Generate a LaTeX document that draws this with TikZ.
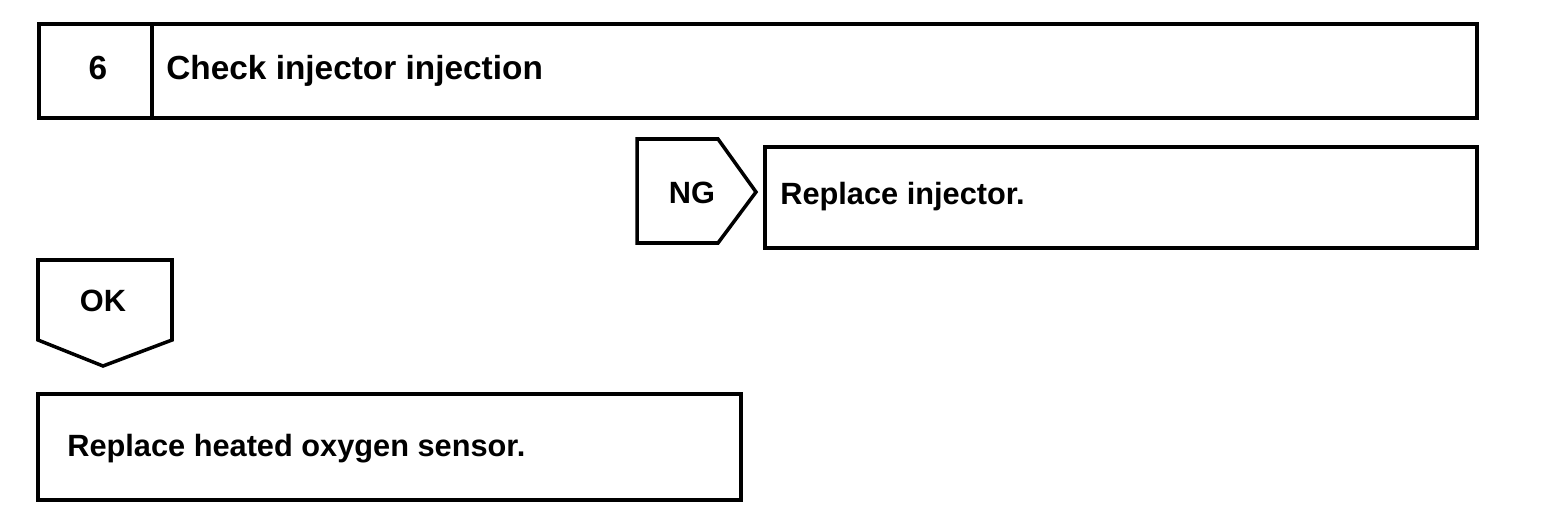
\documentclass[tikz,border=0pt]{standalone}
\usepackage{fontspec}
\setmainfont{Liberation Sans}
\usepackage{tikz}
\usetikzlibrary{positioning}

\begin{document}
\begin{tikzpicture}[x=0.02cm, y=-0.02cm,
  frame/.style={draw, line width=2pt, line join=miter},
  every node/.style={font=\fontsize{17.5}{20}\selectfont\bfseries, inner sep=0pt},
  head/.style={font=\fontsize{19}{22}\selectfont\bfseries}]
  \useasboundingbox (0,0) rectangle (1568,514);
  % step header
  \draw[frame] (39,24) rectangle (1477,118);
  \draw[frame] (152,24) -- (152,118);
  \node[head, anchor=base] (num) at (98,79) {6};
  \node[head, anchor=base west] (title) at (166,79) {Check injector injection};
  % NG branch
  \draw[frame] (637,139) -- (718,139) -- (756,192) -- (718,243) -- (637,243) -- cycle;
  \node[anchor=base] (ng) at (692,203) {NG};
  \draw[frame] (765,147) rectangle (1477,248);
  \node[anchor=base west] (fix) at (780,204) {Replace injector.};
  % OK branch
  \draw[frame] (38,260) -- (172,260) -- (172,340) -- (103,366) -- (38,340) -- cycle;
  \node[anchor=base] (ok) at (103,311) {OK};
  \draw[frame] (38,394) rectangle (741,500);
  \node[anchor=base west] (sensor) at (67,456) {Replace heated oxygen sensor.};
\end{tikzpicture}
\end{document}
